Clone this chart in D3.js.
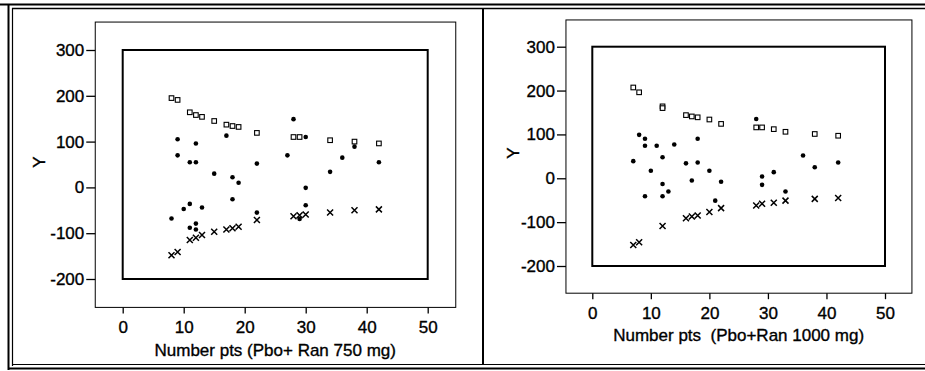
<!DOCTYPE html>
<html>
<head>
<meta charset="utf-8">
<script src="https://cdn.jsdelivr.net/npm/d3@7"></script>
<style>
  html, body { margin: 0; padding: 0; background: #fff; }
  svg { display: block; }
  text { font-family: "Liberation Sans", Arial, sans-serif; fill: #000; stroke: #000; stroke-width: 0.35px; }
  .tick text { font-size: 17px; }
</style>
</head>
<body>
<svg id="chart" width="925" height="371"></svg>
<script>
// ---- Data ----
const xTicks = [0, 10, 20, 30, 40, 50];
const yTicks = [300, 200, 100, 0, -100, -200];

// Panel 1: Pbo+ Ran 750 mg
const upperX750 = [8, 9, 11, 12, 13, 15, 17, 18, 19, 22, 28, 29, 34, 38, 42];
const upperY750 = [195, 191, 164, 158, 154, 145, 137, 134, 132, 119, 110, 110, 103, 100, 96];
const lowerX750 = [8, 9, 11, 12, 13, 15, 17, 18, 19, 22, 28, 29, 30, 34, 38, 42];
const lowerY750 = [-148, -141, -115, -110, -104, -97, -92, -89, -86, -71, -63, -61, -59, -55, -50, -48];
const dotsX750 = [8, 9, 9, 10, 11, 11, 11, 12, 12, 12, 12, 13, 15, 17, 18, 18, 19, 22, 22, 27, 28, 29, 30, 30, 30, 34, 36, 38, 42];
const dotsY750 = [-68, 105, 70, -47, 55, -36, -88, 96, 55, -79, -92, -44, 30, 113, 22, -26, 10, 52, -55, 70, 149, -69, 110, -1, -39, 34, 65, 89, 55];

// Panel 2: Pbo+Ran 1000 mg
const upperX1000 = [7, 8, 12, 12, 16, 17, 18, 20, 22, 28, 29, 31, 33, 38, 42];
const upperY1000 = [207, 196, 164, 160, 144, 141, 139, 134, 124, 116, 116, 112, 106, 101, 97];
const lowerX1000 = [7, 8, 12, 16, 17, 18, 20, 22, 28, 29, 31, 33, 38, 42];
const lowerY1000 = [-152, -146, -109, -91, -87, -85, -77, -68, -62, -58, -56, -51, -47, -45];
const dotsX1000 = [7, 8, 9, 9, 9, 10, 11, 12, 12, 12, 13, 14, 16, 17, 18, 18, 20, 21, 22, 28, 29, 29, 31, 33, 36, 38, 42];
const dotsY1000 = [39, 99, 90, 74, -41, 17, 74, 48, -13, -41, -30, 77, 34, -5, 90, 36, 17, -51, -8, 135, 4, -15, 14, -30, 52, 25, 36];

const xTitles = ["Number pts (Pbo+ Ran 750 mg)", "Number pts  (Pbo+Ran 1000 mg)"];
const yTitle = "Y";

// ---- Layout ----
const panels = [
  { inner: [122.7, 427.7, 279, 50], upX: upperX750, upY: upperY750, loX: lowerX750, loY: lowerY750, dX: dotsX750, dY: dotsY750,
    yLabelX: 39, yLabelY: 162, tickBase: 333, titleBase: 356, title: xTitles[0] },
  { inner: [592.3, 885, 266, 46.7], upX: upperX1000, upY: upperY1000, loX: lowerX1000, loY: lowerY1000, dX: dotsX1000, dY: dotsY1000,
    yLabelX: 513, yLabelY: 153, tickBase: 319, titleBase: 341, title: xTitles[1] }
];

const FS = 17;
const svg = d3.select("#chart");

// figure frame (double line)
svg.append("line").attr("x1", 0).attr("x2", 925).attr("y1", 4.5).attr("y2", 4.5).attr("stroke", "#000").attr("stroke-width", 2);
svg.append("line").attr("x1", 12).attr("x2", 925).attr("y1", 8.5).attr("y2", 8.5).attr("stroke", "#000").attr("stroke-width", 1.5);
svg.append("line").attr("x1", 8.5).attr("x2", 8.5).attr("y1", 4).attr("y2", 370).attr("stroke", "#000").attr("stroke-width", 2);
svg.append("line").attr("x1", 12.5).attr("x2", 12.5).attr("y1", 8).attr("y2", 366).attr("stroke", "#000").attr("stroke-width", 1.2);
svg.append("line").attr("x1", 8).attr("x2", 925).attr("y1", 368.5).attr("y2", 368.5).attr("stroke", "#000").attr("stroke-width", 2);
svg.append("line").attr("x1", 12).attr("x2", 925).attr("y1", 364.5).attr("y2", 364.5).attr("stroke", "#000").attr("stroke-width", 1);
svg.append("line").attr("x1", 483).attr("x2", 483).attr("y1", 8).attr("y2", 365).attr("stroke", "#000").attr("stroke-width", 2);

panels.forEach(p => {
  const [xl, xr, yb, yt] = p.inner;
  const x = d3.scaleLinear().domain([0, 50]).range([xl, xr]);
  const y = d3.scaleLinear().domain([-200, 300]).range([yb, yt]);
  const ox0 = x(-4.5), ox1 = x(54.6), oy0 = y(-262), oy1 = y(361);
  const g = svg.append("g");

  // outer axes box (thin)
  g.append("rect").attr("x", ox0).attr("y", oy1).attr("width", ox1 - ox0).attr("height", oy0 - oy1)
    .attr("fill", "none").attr("stroke", "#000").attr("stroke-width", 1);
  // inner data box (thick)
  g.append("rect").attr("x", x(0)).attr("y", y(300)).attr("width", x(50) - x(0)).attr("height", y(-200) - y(300))
    .attr("fill", "none").attr("stroke", "#000").attr("stroke-width", 2);

  // y axis
  const yAxis = d3.axisLeft(y).tickValues(yTicks).tickSize(9).tickPadding(2).tickFormat(d => String(d));
  const ya = g.append("g").attr("transform", `translate(${ox0},0)`).call(yAxis);
  ya.select(".domain").remove();
  ya.selectAll("line").attr("stroke", "#000").attr("stroke-width", 1.3);
  ya.selectAll("text").attr("fill", "#000").style("font-size", FS + "px")
    .style("font-family", "'Liberation Sans', Arial, sans-serif");

  // x axis
  const xAxis = d3.axisBottom(x).tickValues(xTicks).tickSize(6).tickPadding(4).tickFormat(d => String(d));
  const xa = g.append("g").attr("transform", `translate(0,${oy0})`).call(xAxis);
  xa.select(".domain").remove();
  xa.selectAll("line").attr("stroke", "#000").attr("stroke-width", 1.3);
  xa.selectAll("text").attr("fill", "#000").attr("dy", null).attr("y", p.tickBase - oy0)
    .style("font-size", FS + "px").style("font-family", "'Liberation Sans', Arial, sans-serif");

  // titles
  g.append("text").attr("x", (x(0) + x(50)) / 2).attr("y", p.titleBase).attr("text-anchor", "middle")
    .style("font-size", FS + "px").attr("xml:space", "preserve").style("white-space", "pre").text(p.title);
  g.append("text").attr("transform", `translate(${p.yLabelX},${p.yLabelY}) rotate(-90)`)
    .attr("text-anchor", "middle").attr("dy", "0.35em").style("font-size", FS + "px").text(yTitle);

  // upper: open squares
  g.selectAll(".sq").data(d3.zip(p.upX, p.upY)).join("rect")
    .attr("x", d => x(d[0]) - 2.3).attr("y", d => y(d[1]) - 2.3).attr("width", 4.6).attr("height", 4.6)
    .attr("fill", "#fff").attr("stroke", "#000").attr("stroke-width", 1.1);

  // lower: crosses
  const s = 3;
  g.selectAll(".cx").data(d3.zip(p.loX, p.loY)).join("path")
    .attr("d", d => {
      const cx = x(d[0]), cy = y(d[1]);
      return `M${cx - s},${cy - s}L${cx + s},${cy + s}M${cx - s},${cy + s}L${cx + s},${cy - s}`;
    })
    .attr("stroke", "#000").attr("stroke-width", 1.5).attr("fill", "none");

  // points: filled dots
  g.selectAll(".dt").data(d3.zip(p.dX, p.dY)).join("circle")
    .attr("cx", d => x(d[0])).attr("cy", d => y(d[1])).attr("r", 2.3).attr("fill", "#000");
});
</script>
</body>
</html>
